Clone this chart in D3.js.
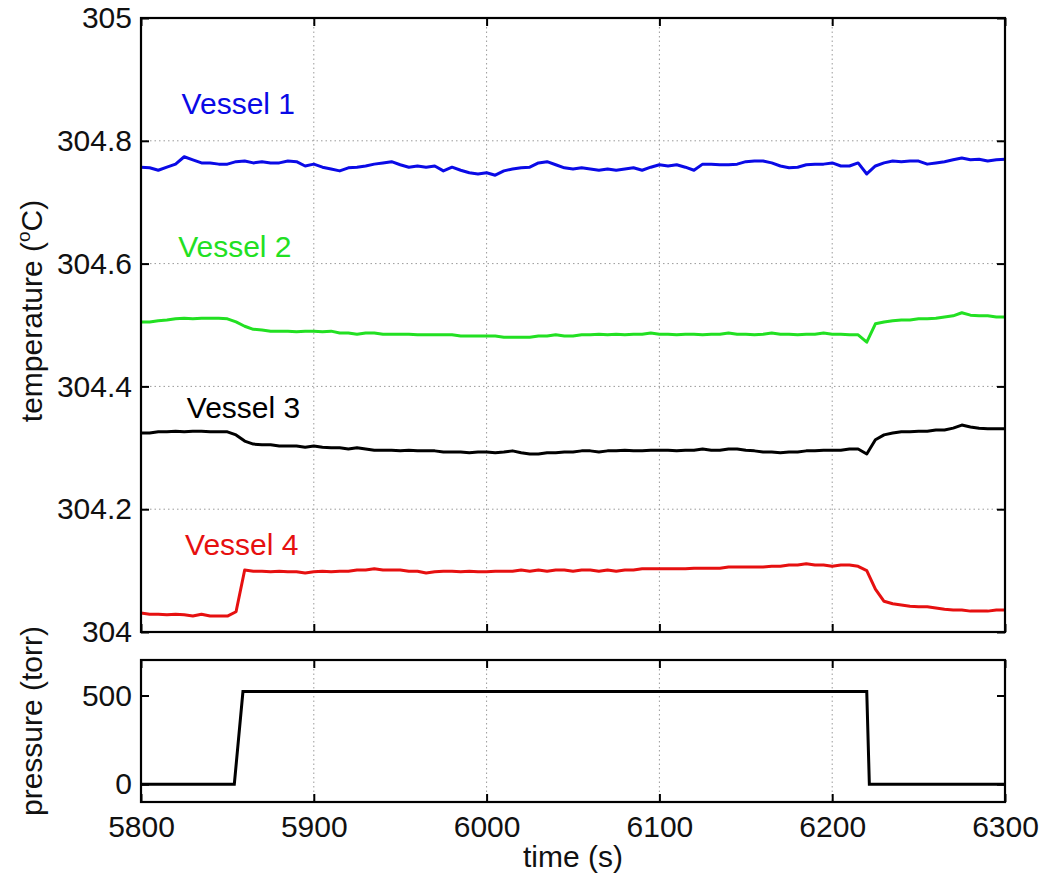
<!DOCTYPE html>
<meta charset="utf-8">
<style>
body { margin: 0; background: #fff; }
text { font-family: "Liberation Sans", Arial, sans-serif; }
</style>
<svg width="1043" height="880"></svg>
<script src="https://d3js.org/d3.v7.min.js"></script>
<script>
// time axis (s), one sample every 5 s
var times = d3.range(5800, 6301, 5);

var vessel1 = [
  304.757, 304.756, 304.752, 304.757, 304.762, 304.774, 304.769, 304.764, 304.764, 304.762,
  304.762, 304.766, 304.767, 304.764, 304.766, 304.764, 304.764, 304.767, 304.766, 304.759,
  304.762, 304.757, 304.754, 304.751, 304.756, 304.757, 304.759, 304.762, 304.764, 304.766,
  304.761, 304.757, 304.759, 304.757, 304.759, 304.751, 304.757, 304.752, 304.748, 304.746,
  304.748, 304.744, 304.751, 304.754, 304.756, 304.757, 304.764, 304.766, 304.761, 304.756,
  304.754, 304.756, 304.754, 304.752, 304.754, 304.752, 304.754, 304.756, 304.752, 304.757,
  304.761, 304.759, 304.761, 304.757, 304.752, 304.762, 304.762, 304.761, 304.761, 304.762,
  304.766, 304.767, 304.767, 304.764, 304.759, 304.756, 304.757, 304.761, 304.762, 304.762,
  304.764, 304.759, 304.759, 304.764, 304.746, 304.759, 304.764, 304.767, 304.766, 304.767,
  304.767, 304.762, 304.764, 304.766, 304.769, 304.772, 304.769, 304.770, 304.767, 304.769,
  304.770
];

var vessel2 = [
  304.505, 304.505, 304.507, 304.508, 304.510, 304.511, 304.510, 304.511, 304.511, 304.511,
  304.510, 304.505, 304.498, 304.493, 304.492, 304.490, 304.490, 304.490, 304.489, 304.490,
  304.490, 304.489, 304.490, 304.487, 304.487, 304.485, 304.487, 304.487, 304.485, 304.485,
  304.485, 304.485, 304.484, 304.484, 304.484, 304.484, 304.484, 304.482, 304.482, 304.482,
  304.482, 304.482, 304.480, 304.480, 304.480, 304.480, 304.482, 304.482, 304.484, 304.482,
  304.482, 304.484, 304.484, 304.485, 304.484, 304.485, 304.484, 304.485, 304.485, 304.487,
  304.485, 304.485, 304.484, 304.485, 304.485, 304.484, 304.485, 304.485, 304.487, 304.485,
  304.485, 304.484, 304.485, 304.487, 304.485, 304.485, 304.484, 304.485, 304.485, 304.487,
  304.485, 304.485, 304.484, 304.484, 304.472, 304.502, 304.505, 304.507, 304.508, 304.508,
  304.510, 304.510, 304.511, 304.513, 304.515, 304.520, 304.516, 304.515, 304.515, 304.513,
  304.513
];

var vessel3 = [
  304.324, 304.324, 304.326, 304.326, 304.327, 304.326, 304.327, 304.327, 304.326, 304.326,
  304.326, 304.321, 304.311, 304.306, 304.305, 304.305, 304.303, 304.303, 304.303, 304.301,
  304.303, 304.301, 304.300, 304.300, 304.298, 304.300, 304.298, 304.296, 304.296, 304.296,
  304.295, 304.296, 304.295, 304.295, 304.295, 304.293, 304.293, 304.293, 304.292, 304.293,
  304.293, 304.292, 304.293, 304.295, 304.292, 304.290, 304.290, 304.292, 304.292, 304.293,
  304.293, 304.295, 304.295, 304.293, 304.295, 304.295, 304.296, 304.295, 304.295, 304.296,
  304.296, 304.296, 304.295, 304.296, 304.296, 304.298, 304.296, 304.296, 304.298, 304.298,
  304.296, 304.295, 304.293, 304.293, 304.292, 304.293, 304.293, 304.295, 304.295, 304.296,
  304.296, 304.296, 304.298, 304.298, 304.290, 304.313, 304.321, 304.324, 304.326, 304.326,
  304.327, 304.327, 304.329, 304.329, 304.332, 304.337, 304.334, 304.332, 304.331, 304.331,
  304.331
];

var vessel4 = [
  304.031, 304.029, 304.029, 304.028, 304.029, 304.028, 304.026, 304.029, 304.026, 304.026,
  304.026, 304.033, 304.101, 304.099, 304.099, 304.098, 304.099, 304.098, 304.098, 304.096,
  304.098, 304.099, 304.098, 304.099, 304.099, 304.101, 304.101, 304.103, 304.101, 304.101,
  304.101, 304.099, 304.099, 304.096, 304.098, 304.099, 304.099, 304.098, 304.099, 304.098,
  304.098, 304.099, 304.099, 304.099, 304.101, 304.099, 304.101, 304.099, 304.101, 304.101,
  304.099, 304.101, 304.101, 304.099, 304.101, 304.099, 304.101, 304.101, 304.103, 304.103,
  304.103, 304.103, 304.103, 304.103, 304.104, 304.104, 304.104, 304.104, 304.106, 304.106,
  304.106, 304.106, 304.106, 304.107, 304.107, 304.109, 304.109, 304.111, 304.109, 304.109,
  304.107, 304.109, 304.109, 304.107, 304.100, 304.070, 304.050, 304.046, 304.044, 304.042,
  304.041, 304.041, 304.039, 304.037, 304.036, 304.036, 304.034, 304.034, 304.034, 304.036,
  304.036
];

var seriesNames = ["Vessel 1", "Vessel 2", "Vessel 3", "Vessel 4"];
var seriesColors = ["#0a0ae6", "#22e022", "#000000", "#e61010"];
// where each label sits, in data units (time, temperature)
var labelTimes = [5823.5, 5821.5, 5826.5, 5825.5];
var labelTemps = [304.844, 304.611, 304.349, 304.125];

var pressTimes = [5800, 5854, 5859, 6220, 6221.5, 6300];
var pressure = [0, 0, 522, 522, 0, 0];

var timeTicks = [5800, 5900, 6000, 6100, 6200, 6300];
var tempTicks = [304, 304.2, 304.4, 304.6, 304.8, 305];
var tempTickLabels = ["304", "304.2", "304.4", "304.6", "304.8", "305"];
var pressTicks = [0, 500];

var FONT = 30;
var left = 141, right = 1005;
var topY0 = 18, topY1 = 632;
var botY0 = 660, botY1 = 802;

var svg = d3.select("svg");
svg.append("rect").attr("width", 1043).attr("height", 880).attr("fill", "#fff");

var x = d3.scaleLinear().domain([5800, 6300]).range([left, right]);
var yT = d3.scaleLinear().domain([304, 305]).range([topY1, topY0]);
var yP = d3.scaleLinear().domain([-100, 700]).range([botY1, botY0]);

function styleAxis(g) {
  g.select(".domain").remove();
  g.selectAll(".tick line").attr("stroke", "#000").attr("stroke-width", 2);
  g.selectAll("text").attr("font-size", FONT).attr("fill", "#111").attr("font-family", "Liberation Sans, Arial, sans-serif");
}

function gridDots(g) {
  g.attr("stroke", "#9a9a9a").attr("stroke-width", 1).attr("stroke-dasharray", "1.5,3");
}

// ---- top panel: temperatures ----
var gridT = svg.append("g").call(gridDots);
gridT.selectAll("line.v").data(timeTicks.slice(1, -1)).enter().append("line")
  .attr("x1", function (d) { return x(d) }).attr("x2", function (d) { return x(d) })
  .attr("y1", topY0).attr("y2", topY1);
gridT.selectAll("line.h").data(tempTicks.slice(1, -1)).enter().append("line")
  .attr("x1", left).attr("x2", right)
  .attr("y1", function (d) { return yT(d) }).attr("y2", function (d) { return yT(d) });

var line = d3.line()
  .x(function (d, i) { return x(times[i]) })
  .y(function (d) { return yT(d) });

[vessel1, vessel2, vessel3, vessel4].forEach(function (vals, k) {
  svg.append("path")
    .attr("d", line(vals))
    .attr("fill", "none")
    .attr("stroke", seriesColors[k])
    .attr("stroke-width", 3)
    .attr("stroke-linejoin", "round");
  svg.append("text")
    .attr("x", x(labelTimes[k]))
    .attr("y", yT(labelTemps[k]))
    .attr("font-size", FONT)
    .attr("fill", seriesColors[k])
    .text(seriesNames[k]);
});

svg.append("g").attr("transform", "translate(" + left + ",0)")
  .call(d3.axisLeft(yT).tickValues(tempTicks).tickFormat(function (d, i) { return tempTickLabels[i] })
    .tickSizeInner(-8).tickSizeOuter(0).tickPadding(9))
  .call(styleAxis);
svg.append("g").attr("transform", "translate(" + right + ",0)")
  .call(d3.axisRight(yT).tickValues(tempTicks).tickFormat("").tickSizeInner(-8).tickSizeOuter(0))
  .call(styleAxis);
svg.append("g").attr("transform", "translate(0," + topY0 + ")")
  .call(d3.axisTop(x).tickValues(timeTicks).tickFormat("").tickSizeInner(-8).tickSizeOuter(0))
  .call(styleAxis);
svg.append("g").attr("transform", "translate(0," + topY1 + ")")
  .call(d3.axisBottom(x).tickValues(timeTicks).tickFormat("").tickSizeInner(-8).tickSizeOuter(0))
  .call(styleAxis);
svg.append("rect").attr("x", left).attr("y", topY0)
  .attr("width", right - left).attr("height", topY1 - topY0)
  .attr("fill", "none").attr("stroke", "#000").attr("stroke-width", 2.2);

// ---- bottom panel: pressure ----
var gridP = svg.append("g").call(gridDots);
gridP.selectAll("line").data(timeTicks.slice(1, -1)).enter().append("line")
  .attr("x1", function (d) { return x(d) }).attr("x2", function (d) { return x(d) })
  .attr("y1", botY0).attr("y2", botY1);

svg.append("path")
  .attr("d", d3.line()
    .x(function (d, i) { return x(pressTimes[i]) })
    .y(function (d) { return yP(d) })(pressure))
  .attr("fill", "none").attr("stroke", "#000").attr("stroke-width", 3);

svg.append("g").attr("transform", "translate(" + left + ",0)")
  .call(d3.axisLeft(yP).tickValues(pressTicks).tickFormat(d3.format("d"))
    .tickSizeInner(-8).tickSizeOuter(0).tickPadding(9))
  .call(styleAxis);
svg.append("g").attr("transform", "translate(" + right + ",0)")
  .call(d3.axisRight(yP).tickValues(pressTicks).tickFormat("").tickSizeInner(-8).tickSizeOuter(0))
  .call(styleAxis);
svg.append("g").attr("transform", "translate(0," + botY0 + ")")
  .call(d3.axisTop(x).tickValues(timeTicks).tickFormat("").tickSizeInner(-8).tickSizeOuter(0))
  .call(styleAxis);
svg.append("g").attr("transform", "translate(0," + botY1 + ")")
  .call(d3.axisBottom(x).tickValues(timeTicks).tickFormat(d3.format("d"))
    .tickSizeInner(-8).tickSizeOuter(0).tickPadding(14))
  .call(styleAxis);
svg.append("rect").attr("x", left).attr("y", botY0)
  .attr("width", right - left).attr("height", botY1 - botY0)
  .attr("fill", "none").attr("stroke", "#000").attr("stroke-width", 2.2);

// ---- axis titles ----
svg.append("text")
  .attr("x", (left + right) / 2).attr("y", 867)
  .attr("text-anchor", "middle").attr("font-size", FONT).attr("fill", "#111")
  .text("time (s)");

var tt = svg.append("text")
  .attr("transform", "translate(42," + ((topY0 + topY1) / 2 - 14) + ") rotate(-90)")
  .attr("text-anchor", "middle").attr("font-size", FONT).attr("fill", "#111");
tt.append("tspan").text("temperature (");
tt.append("tspan").attr("font-size", 19).attr("dy", -12).text("o");
tt.append("tspan").attr("dy", 12).text("C)");

svg.append("text")
  .attr("transform", "translate(42," + ((botY0 + botY1) / 2 - 10) + ") rotate(-90)")
  .attr("text-anchor", "middle").attr("font-size", FONT).attr("fill", "#111")
  .text("pressure (torr)");
</script>
